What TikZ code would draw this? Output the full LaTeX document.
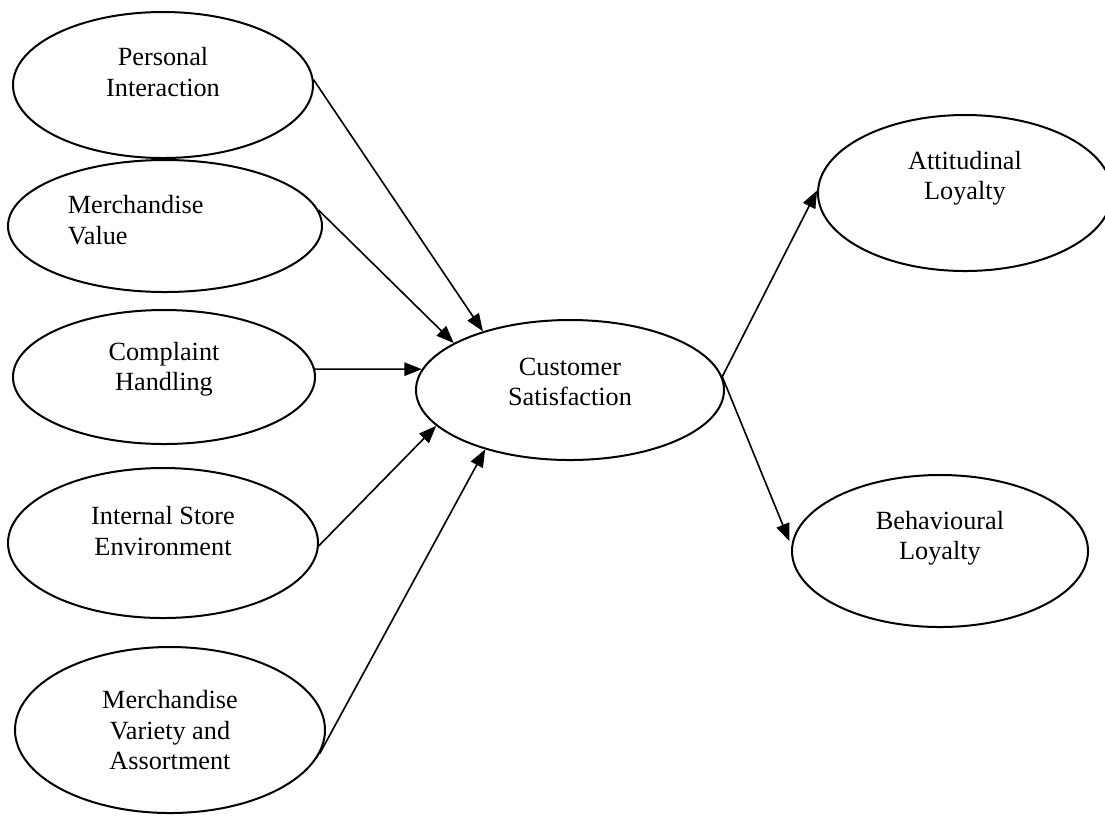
\documentclass[tikz,border=0pt]{standalone}
\usepackage{fontspec}
\setmainfont{Liberation Serif}
\usetikzlibrary{arrows.meta,shapes.geometric}

\begin{document}
\begin{tikzpicture}[x=0.4pt,y=-0.4pt,
  oval/.style={ellipse,draw,line width=0.8pt,inner sep=0pt},
  lbl/.style={align=center,font=\fontsize{10.5}{12.2}\selectfont},
  arrow/.style={-{Triangle[length=7pt,width=5.4pt]},line width=0.65pt}]
\useasboundingbox (0,0) rectangle (1105,816);
% drivers
\node[oval,minimum width=120pt,minimum height=58.4pt]   (pi)  at (163,85)  {};
\node[oval,minimum width=125.6pt,minimum height=52.8pt] (mv)  at (165,226) {};
\node[oval,minimum width=120.8pt,minimum height=53.6pt] (ch)  at (164,377) {};
\node[oval,minimum width=124pt,minimum height=60pt]     (ise) at (163,543) {};
\node[oval,minimum width=124pt,minimum height=66.4pt]   (mva) at (170,730) {};
% satisfaction and loyalty
\node[oval,minimum width=123.2pt,minimum height=56pt]   (cs)  at (570,390) {};
\node[oval,minimum width=117.6pt,minimum height=62.4pt] (al)  at (965,193) {};
\node[oval,minimum width=118.4pt,minimum height=60.8pt] (bl)  at (940,551) {};
% texts
\node[lbl] (pitxt)  at (163,72)  {Personal\\Interaction};
\node[lbl,align=left,anchor=west] (mvtxt) at (59,220) {Merchandise\\Value};
\node[lbl] (chtxt)  at (164,369) {Complaint\\Handling};
\node[lbl] (isetxt) at (163,531) {Internal Store\\Environment};
\node[lbl] (mvatxt) at (170,730) {Merchandise\\Variety and\\Assortment};
\node[lbl] (cstxt)  at (570,382) {Customer\\Satisfaction};
\node[lbl] (altxt)  at (965,178) {Attitudinal\\Loyalty};
\node[lbl] (bltxt)  at (940,538) {Behavioural\\Loyalty};
% paths
\draw[arrow] (pi.2)   -- (cs.146);
\draw[arrow] (mv.6)   -- (cs.158);
\draw[arrow] (ch.3)   -- (cs.172);
\draw[arrow] (ise.-1) -- (cs.195);
\draw[arrow] (mva.-9) -- (cs.215);
\draw[arrow] (cs.5) -- (al.179);
\draw[arrow,shorten >=2pt] (cs.5) -- (bl.178);
\end{tikzpicture}
\end{document}
